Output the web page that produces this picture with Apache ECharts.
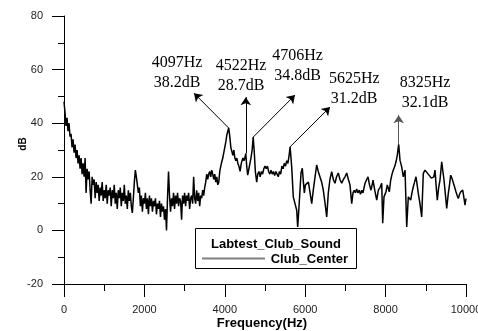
<!DOCTYPE html>
<html><head><meta charset="utf-8">
<script src="https://cdn.jsdelivr.net/npm/echarts@6/dist/echarts.min.js"></script>
<style>html,body{margin:0;padding:0;background:#fff}#c{width:478px;height:331px}</style>
</head><body><div id="c"></div>
<script>
// ---- data ----
const freqHz = [
  0,25,50,75,100,125,150,175,200,225,
  250,275,300,325,350,375,400,425,450,475,
  500,525,550,575,600,625,650,675,700,725,
  750,775,800,825,850,875,900,925,950,975,
  1000,1025,1050,1075,1100,1125,1150,1175,1200,1225,
  1250,1275,1300,1325,1350,1375,1400,1425,1450,1475,
  1500,1525,1550,1575,1600,1625,1650,1675,1700,1725,
  1750,1775,1800,1825,1850,1875,1900,1925,1950,1975,
  2000,2025,2050,2075,2100,2125,2150,2175,2200,2225,
  2250,2275,2300,2325,2350,2375,2400,2425,2450,2475,
  2500,2525,2550,2575,2600,2625,2650,2675,2700,2725,
  2750,2775,2800,2825,2850,2875,2900,2925,2950,2975,
  3000,3025,3050,3075,3100,3125,3150,3175,3200,3225,
  3250,3275,3300,3325,3350,3375,3400,3425,3450,3475,
  3500,3525,3550,3575,3600,3625,3650,3675,3700,3725,
  3750,3775,3800,3825,3850,3875,3900,3925,3950,3975,
  4000,4025,4050,4075,4097,4125,4150,4175,
  4200,4225,4250,4275,4300,4325,4350,4380,4410,4450,
  4475,4500,4522,4545,4570,4600,4625,4650,4680,4706,
  4730,4760,4793,4820,4850,4880,4910,4940,4970,5000,
  5030,5060,5090,5120,5150,5180,5210,5240,5270,5300,
  5330,5360,5390,5420,5450,5480,5510,5540,5570,5600,
  5625,5664,5704,5746,5789,5813,5846,5896,5928,5955,
  5978,6005,6037,6080,6119,6162,6201,6245,6286,6325,
  6368,6410,6450,6495,6535,6575,6615,6659,6700,6741,
  6780,6823,6865,6908,6950,6990,7032,7075,7114,7157,
  7189,7220,7250,7280,7310,7345,7375,7410,7438,7465,
  7488,7525,7562,7600,7637,7665,7687,7730,7779,7820,
  7861,7903,7928,7960,8010,8042,8092,8127,8160,8192,
  8230,8259,8290,8325,8358,8400,8440,8483,8525,8565,
  8624,8655,8689,8720,8756,8785,8813,8855,8898,8938,
  8980,9022,9060,9104,9140,9172,9200,9229,9260,9286,
  9320,9353,9396,9425,9453,9490,9520,9560,9590,9619,
  9650,9684,9720,9751,9780,9808,9840,9868,9918,9950,
  9975,10000
];
const levelDb = [
  48,44,39,42,37,40,35,36,31,34,
  29,32,27,30,25,28,23,27,21,25,
  20,27,14,23,19,22,15,10,20,17,
  19,12,18,14,17,11,16,13,18,11,
  15,12,17,10,15,13,16,9,15,12,
  17,10,14,8,15,12,16,9,14,11,
  17,10,13,8,15,11,14,9,6.5,12,
  18,22.5,20,17,14,16,9,13,7,12,
  10,14,8,12,6,13,9,12,7,11,
  9,12,6,10,8,11,5,10,7,9,
  4,8,0,12,22,13,7,12,9,14,
  8,13,10,14,9,12,11,4,13,10,
  14,9,13,11,14,8,12,13,10,20,
  12,10,15,11,14,9,13,12,15,13,
  16,18,21,19,21,22,20,22.5,21,19,
  21,18,20,17,18,22,24,25.6,27,29,
  31,33,35.5,37,38.2,35,31,31,
  28,30,27,26,27,25,24,22,25,27,
  26,27,28.7,24,20.6,23,25,27,30,34.8,
  30,22,18,21,22,20,22,21,23,24,
  23,24,22,21,22.5,21,22,20.5,22,21,
  20,22,21,24,23,25,24,26,25,28,
  31.2,23.7,12.5,10,7.5,1.3,8.8,21.4,23.2,18,
  14,17,16.3,18,17.6,10,15,20,24.4,22,
  21.4,18,15,10,5,14,19,21.9,19,17.6,
  20,21.4,19,17.6,19,20,21.4,19,17,10,
  14,15,14,15.5,14,15,13.5,15,14,16,
  17.6,18,20,17,15,17,18.8,15,11.3,15,
  16,17.6,2.7,12.5,14.4,17,14.4,18.8,21,22.5,
  24,25.6,28,32.1,26.2,23.7,20,22.5,1.3,12.5,
  11.3,14,16.3,18,20,17,13.8,10,5,21.3,
  22.5,21.9,21,20.6,19.5,18.8,20,22.5,16,11.3,
  16,18.8,25.6,22,18.8,13,8.2,13.8,17,20.6,
  19.5,18.8,16,14.4,13,11.9,13.5,14.4,15,12,
  9.4,11.9
];
const peakHz = [4097, 4522, 4706, 5625, 8325];
const peakDb = [38.2, 28.7, 34.8, 31.2, 32.1];
const legendTitle = 'Labtest_Club_Sound';
const seriesName = 'Club_Center';
const xTitle = 'Frequency(Hz)';
const yTitle = 'dB';

// ---- annotation layout (in data units) ----
const arrowTips = [[3234, 51.2], [4522, 49.7], [5746, 50.5], [6617, 46], [8325, 43]];
const textCenters = [[2811, 58.9], [4403, 57.8], [5808, 61.3], [7219, 52.7], [8980, 51.5]];
const arrowColors = ['#000', '#000', '#000', '#000', '#555'];

const points = freqHz.map((f, i) => [f, levelDb[i]]);
const chart = echarts.init(document.getElementById('c'), null, {renderer: 'canvas'});

const axisCommon = {
  axisLine: {show: true, onZero: false, lineStyle: {color: '#000', width: 1}},
  splitLine: {show: false},
  minorSplitLine: {show: false}
};

chart.setOption({
  animation: false,
  backgroundColor: '#fff',
  grid: {left: 64, right: 12, top: 16, bottom: 47, containLabel: false, outerBoundsMode: 'none'},
  xAxis: Object.assign({}, axisCommon, {
    type: 'value', min: 0, max: 10000, interval: 2000,
    axisTick: {show: true, inside: false, length: 13, lineStyle: {color: '#000', width: 1}},
    minorTick: {show: true, splitNumber: 2, length: 7, lineStyle: {color: '#000', width: 1}},
    axisLabel: {margin: 20, color: '#222', fontFamily: 'Liberation Sans', fontSize: 11,
      showMaxLabel: true, showMinLabel: true, formatter: v => String(v)}
  }),
  yAxis: Object.assign({}, axisCommon, {
    type: 'value', min: -20, max: 80, interval: 20,
    axisTick: {show: true, inside: false, length: 12, lineStyle: {color: '#000', width: 1}},
    minorTick: {show: true, splitNumber: 2, length: 6, lineStyle: {color: '#000', width: 1}},
    axisLabel: {margin: 21, color: '#222', fontFamily: 'Liberation Sans', fontSize: 11, formatter: v => String(v)}
  }),
  series: [{
    name: seriesName,
    type: 'line',
    data: points,
    showSymbol: false,
    symbol: 'none',
    lineStyle: {color: '#000', width: 1.5},
    silent: true,
    z: 2,
    markLine: {
      silent: true,
      symbol: ['none', 'arrow'],
      symbolSize: 8,
      label: {show: false},
      emphasis: {disabled: true},
      animation: false,
      data: peakHz.map((h, i) => [
        {coord: [h, peakDb[i]], lineStyle: {color: arrowColors[i], width: 1, type: 'solid'}},
        {coord: arrowTips[i], lineStyle: {color: arrowColors[i], width: 1, type: 'solid'}}
      ])
    }
  }]
});

const gfx = [];
peakHz.forEach((h, i) => {
  const p = chart.convertToPixel({gridIndex: 0}, textCenters[i]);
  gfx.push({
    type: 'text', x: p[0], y: p[1], z: 50, silent: true,
    style: {
      text: h + 'Hz\n' + peakDb[i].toFixed(1) + 'dB',
      fontFamily: 'Liberation Serif', fontSize: 16, lineHeight: 20,
      fill: '#000', align: 'center', verticalAlign: 'middle'
    }
  });
});
// legend box
gfx.push({type: 'rect', z: 60, silent: true, shape: {x: 195.5, y: 228.5, width: 161, height: 40},
  style: {fill: '#fff', stroke: '#000', lineWidth: 1}});
gfx.push({type: 'text', z: 61, silent: true, x: 211, y: 244,
  style: {text: legendTitle, fontFamily: 'Liberation Sans', fontWeight: 'bold', fontSize: 13, fill: '#000', align: 'left', verticalAlign: 'middle'}});
gfx.push({type: 'line', z: 61, silent: true, shape: {x1: 202, y1: 258.5, x2: 265, y2: 258.5},
  style: {stroke: '#808080', lineWidth: 2}});
gfx.push({type: 'text', z: 61, silent: true, x: 348, y: 259,
  style: {text: seriesName, fontFamily: 'Liberation Sans', fontWeight: 'bold', fontSize: 13, fill: '#000', align: 'right', verticalAlign: 'middle'}});
// axis titles
gfx.push({type: 'text', z: 61, silent: true, x: 262, y: 323,
  style: {text: xTitle, fontFamily: 'Liberation Sans', fontWeight: 'bold', fontSize: 13, fill: '#000', align: 'center', verticalAlign: 'middle'}});
gfx.push({type: 'text', z: 61, silent: true, x: 23.5, y: 144, rotation: Math.PI / 2,
  style: {text: yTitle, fontFamily: 'Liberation Sans', fontWeight: 'bold', fontSize: 10, fill: '#000', align: 'center', verticalAlign: 'middle'}});

chart.setOption({graphic: gfx});
</script>
</body></html>
